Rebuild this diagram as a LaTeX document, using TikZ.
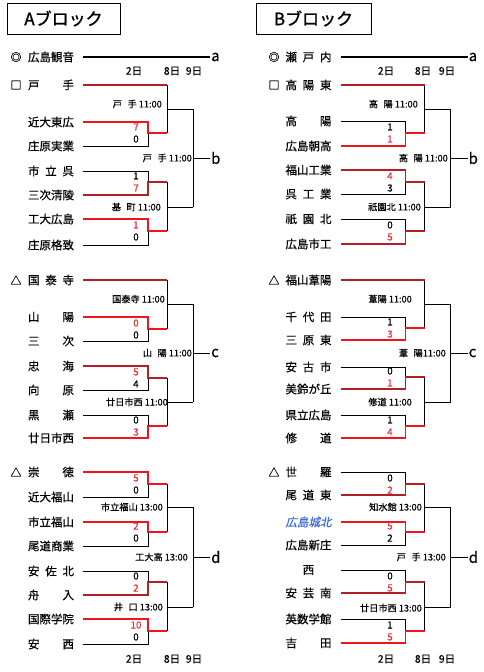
\documentclass[tikz,border=0pt]{standalone}
\usepackage{fontspec}
\setmainfont[FakeBold=0.35]{Noto Sans CJK JP}
\newfontfamily\jpit[FakeSlant=0.2,FakeBold=0.35]{Noto Sans CJK JP}
\newfontfamily\jpbf[FakeBold=1.3]{Noto Sans CJK JP}
\definecolor{dkred}{HTML}{B11F29}
\definecolor{brred}{HTML}{F0141E}
\definecolor{scr}{HTML}{E2343A}
\definecolor{blu}{HTML}{3A6AD8}
\newcommand\bxa{83}
\newcommand\bxb{148}
\newcommand\bxc{167}
\newcommand\bxd{193}
\newcommand\bxe{210}
\newcommand\bsx{136}
\newcommand\kg{\hspace{0.6em}}
\tikzset{
  blk/.style={line width=0.9pt, draw=black},
  win/.style={line width=1.8pt},
  seedline/.style={line width=1.8pt, draw=black},
  team/.style={font=\fontsize{11.5}{12}\selectfont, inner sep=0pt, anchor=center},
  sym/.style={font=\fontsize{11}{12}\selectfont, inner sep=0pt},
  score/.style={font=\fontsize{9.8}{10}\selectfont, inner sep=0pt},
  mlabel/.style={font=\fontsize{9.2}{10}\selectfont, inner sep=0pt, anchor=east},
  dlabel/.style={font=\fontsize{10.5}{11}\selectfont, inner sep=0pt},
  letter/.style={font=\fontsize{15}{16}\selectfont, inner sep=1pt, anchor=west},
  titlebox/.style={draw, line width=0.8pt, minimum height=31pt, inner sep=0pt},
}
% team name node
\newcommand\tm[3]{\node[team] (#1) at (51,#2) {\makebox[46pt]{#3}};}
% first round match, top team wins: y1 y2 ym colour s1 s2
\newcommand\mtop[6]{%
  \draw[blk] (\bxa,#2) -- (\bxb,#2) -- (\bxb,#3);
  \draw[win,draw=#4] (\bxa,#1) -- (\bxb,#1) -- (\bxb,#3) -- (\bxc,#3);
  \node[score,text=scr] at (\bsx,{#3-6}) {#5};
  \node[score] at (\bsx,{#3+6}) {#6};}
% first round match, bottom team wins
\newcommand\mbot[6]{%
  \draw[blk] (\bxa,#1) -- (\bxb,#1) -- (\bxb,#3);
  \draw[win,draw=#4] (\bxa,#2) -- (\bxb,#2) -- (\bxb,#3) -- (\bxc,#3);
  \node[score] at (\bsx,{#3-6}) {#5};
  \node[score,text=scr] at (\bsx,{#3+6}) {#6};}
\newcommand\rtwo[3]{%
  \draw[blk] (\bxc,#1) -- (\bxc,#2);
  \draw[blk] (\bxc,#3) -- (\bxd,#3);}
\newcommand\rthree[4]{%
  \draw[blk] (\bxd,#1) -- (\bxd,#2);
  \draw[blk] (\bxd,#3) -- (\bxe,#3);
  \node[letter] at (\bxe,#3) {#4};}
\begin{document}
\begin{tikzpicture}[x=1pt,y=-1pt]
\useasboundingbox (0,0) rectangle (483,672);
\fill[white] (0,0) rectangle (483,672);

% ================= A block =================
\node[titlebox, minimum width=113pt] (tA) at (63.5,18.5) {\fontsize{17}{18}\selectfont\jpbf Aブロック};
\begin{scope}
\node[sym] (sA0) at (16,57) {◎};
\tm{A0}{57}{広島観音}
\coordinate (aA0) at (\bxa,57);
\coordinate (eA0) at (\bxe,57);
\draw[seedline] (aA0) -- (eA0);
\node[letter] (la) at (eA0) {a};
\node[dlabel] (dA1) at (134,71) {2日};
\node[dlabel] (dA2) at (172,71) {8日};
\node[dlabel] (dA3) at (194,71) {9日};

% group b
\node[sym] (sA1) at (16,85) {□};
\tm{A1}{85}{戸\hfill 手}
\tm{A2}{122}{近大東広}
\tm{A3}{146}{庄原実業}
\tm{A4}{171}{市\hfill 立\hfill 呉}
\tm{A5}{195}{三次清陵}
\tm{A6}{219}{工大広島}
\tm{A7}{245}{庄原格致}
\rthree{109}{207}{158}{b}
\rtwo{85}{133}{109}
\rtwo{182}{231}{207}
\draw[win,draw=dkred] (\bxa,85) -- (\bxc,85);
\mtop{122}{146}{133}{brred}{7}{0}
\mbot{171}{195}{182}{dkred}{1}{7}
\mtop{219}{245}{231}{brred}{1}{0}
\node[mlabel] (mA1) at (162,104) {戸\kg 手 11:00};
\node[mlabel] (mA2) at (161,207) {基\kg 町 11:00};
\node[mlabel] (mA3) at (192,158) {戸\kg 手 11:00};

% group c
\node[sym] (sA2) at (16,280) {△};
\tm{A8}{280}{国\hfill 泰\hfill 寺}
\tm{A9}{317}{山\hfill 陽}
\tm{A10}{341}{三\hfill 次}
\tm{A11}{366}{忠\hfill 海}
\tm{A12}{390}{向\hfill 原}
\tm{A13}{415}{黒\hfill 瀬}
\tm{A14}{438}{廿日市西}
\rthree{304}{402}{353}{c}
\rtwo{280}{329}{304}
\rtwo{378}{426}{402}
\draw[win,draw=dkred] (\bxa,280) -- (\bxc,280);
\mtop{317}{341}{329}{brred}{0}{0}
\mtop{366}{390}{378}{dkred}{5}{4}
\mbot{415}{438}{426}{brred}{0}{3}
\node[mlabel] (mA4) at (165,299) {国泰寺 11:00};
\node[mlabel] (mA5) at (168,402) {廿日市西 11:00};
\node[mlabel] (mA6) at (192,353) {山\kg 陽 11:00};

% group d
\node[sym] (sA3) at (16,472) {△};
\tm{A15}{472}{崇\hfill 徳}
\tm{A16}{497}{近大福山}
\tm{A17}{522}{市立福山}
\tm{A18}{546}{尾道商業}
\tm{A19}{571}{安\hfill 佐\hfill 北}
\tm{A20}{595}{舟\hfill 入}
\tm{A21}{619}{国際学院}
\tm{A22}{644}{安\hfill 西}
\rthree{507}{607}{557}{d}
\rtwo{484}{532}{507}
\rtwo{582}{631}{607}
\mtop{472}{497}{484}{brred}{5}{0}
\mtop{522}{546}{532}{brred}{2}{0}
\mbot{571}{595}{582}{dkred}{0}{2}
\mtop{619}{644}{631}{brred}{10}{0}
\node[mlabel] (mA7) at (163,507) {市立福山 13:00};
\node[mlabel] (mA8) at (163,607) {井\kg 口 13:00};
\node[mlabel] (mA9) at (188,557) {工大高 13:00};
\node[dlabel] (dA4) at (134,659) {2日};
\node[dlabel] (dA5) at (172,659) {8日};
\node[dlabel] (dA6) at (194,659) {9日};
\end{scope}

% ================= B block =================
\node[titlebox, minimum width=115pt] (tB) at (313.5,18.5) {\fontsize{17}{18}\selectfont\jpbf Bブロック};
\begin{scope}[xshift=257.5pt]
\renewcommand\bsx{132.5}
\node[sym] (sB0) at (16.5,57) {◎};
\tm{B0}{57}{瀬\hfill 戸\hfill 内}
\coordinate (aB0) at (\bxa,57);
\coordinate (eB0) at (\bxe,57);
\draw[seedline] (aB0) -- (eB0);
\node[letter] (lb) at (eB0) {a};
\node[dlabel] (dB1) at (128.5,71) {2日};
\node[dlabel] (dB2) at (165.5,71) {8日};
\node[dlabel] (dB3) at (189.5,71) {9日};

% group b
\node[sym] (sB1) at (16.5,85) {□};
\tm{B1}{85}{高\hfill 陽\hfill 東}
\tm{B2}{121}{高\hfill 陽}
\tm{B3}{146}{広島朝高}
\tm{B4}{170}{福山工業}
\tm{B5}{194}{呉\hfill 工\hfill 業}
\tm{B6}{219}{祇\hfill 園\hfill 北}
\tm{B7}{244}{広島市工}
\rthree{109}{207}{158}{b}
\rtwo{85}{133}{109}
\rtwo{182}{231}{207}
\draw[win,draw=dkred] (\bxa,85) -- (\bxc,85);
\mbot{121}{146}{133}{brred}{1}{1}
\mtop{170}{194}{182}{dkred}{4}{3}
\mbot{219}{244}{231}{dkred}{0}{5}
\node[mlabel] (mB1) at (160.5,104) {高\kg 陽 11:00};
\node[mlabel] (mB2) at (163.5,207) {祇園北 11:00};
\node[mlabel] (mB3) at (190.5,158) {高\kg 陽 11:00};

% group c
\node[sym] (sB2) at (16.5,280) {△};
\tm{B8}{280}{福山葦陽}
\tm{B9}{317}{千\hfill 代\hfill 田}
\tm{B10}{340}{三\hfill 原\hfill 東}
\tm{B11}{367}{安\hfill 古\hfill 市}
\tm{B12}{389}{美鈴が丘}
\tm{B13}{415}{県立広島}
\tm{B14}{438}{修\hfill 道}
\rthree{304}{402}{353}{c}
\rtwo{280}{328}{304}
\rtwo{377}{426}{402}
\draw[win,draw=dkred] (\bxa,280) -- (\bxc,280);
\mbot{317}{340}{328}{brred}{1}{3}
\mbot{367}{389}{377}{dkred}{0}{1}
\mbot{415}{438}{426}{brred}{1}{4}
\node[mlabel] (mB4) at (154.5,299) {葦陽 11:00};
\node[mlabel] (mB5) at (154.5,402) {修道 11:00};
\node[mlabel] (mB6) at (188.5,353) {葦\kg 陽11:00};

% group d
\node[sym] (sB3) at (16.5,472) {△};
\tm{B15}{472}{世\hfill 羅}
\tm{B16}{495}{尾\hfill 道\hfill 東}
\node[team,text=blu] (B17) at (51,522) {\makebox[46pt]{\jpit 広島城北}};
\tm{B18}{545}{広島新庄}
\tm{B19}{570}{西}
\tm{B20}{593}{安\hfill 芸\hfill 南}
\tm{B21}{619}{英数学館}
\tm{B22}{643}{吉\hfill 田}
\rthree{507}{607}{557}{d}
\rtwo{484}{532}{507}
\rtwo{582}{631}{607}
\mbot{472}{495}{484}{dkred}{0}{2}
\mtop{522}{545}{532}{brred}{5}{2}
\mbot{570}{593}{582}{dkred}{0}{5}
\mbot{619}{643}{631}{brred}{1}{5}
\node[mlabel] (mB7) at (164.5,507) {知水館 13:00};
\node[mlabel] (mB8) at (164.5,608) {廿日市西 13:00};
\node[mlabel] (mB9) at (188.5,557) {戸\kg 手 13:00};
\node[dlabel] (dB4) at (128.5,659) {2日};
\node[dlabel] (dB5) at (165.5,659) {8日};
\node[dlabel] (dB6) at (189.5,659) {9日};
\end{scope}
\end{tikzpicture}
\end{document}
